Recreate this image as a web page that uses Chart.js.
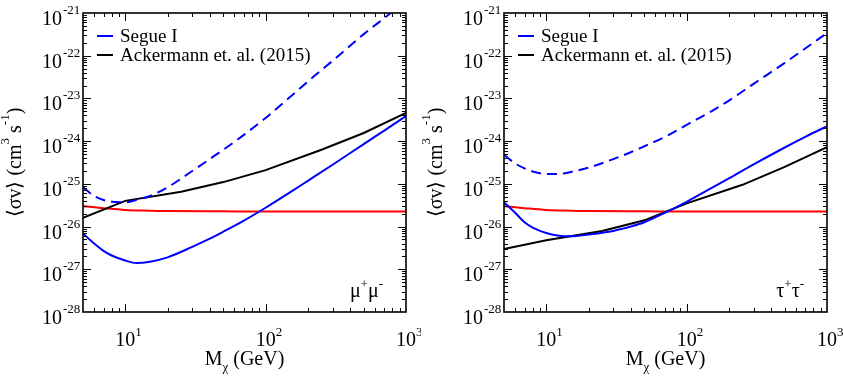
<!DOCTYPE html>
<html>
<head>
<meta charset="utf-8">
<script src="https://cdn.jsdelivr.net/npm/chart.js@4.4.1/dist/chart.umd.min.js"></script>
<style>
  body { margin: 0; background: #fff; width: 843px; height: 378px; overflow: hidden; }
  canvas { position: absolute; top: 0; }
</style>
</head>
<body>
<canvas id="mumu" width="421" height="378" style="left:0px"></canvas>
<canvas id="tautau" width="422" height="378" style="left:421px"></canvas>
<script>
// masses (GeV)
var massGrid = [5, 6, 7, 8, 10, 12, 15, 20, 30, 40, 50, 70, 100, 150, 200, 300, 500, 700, 1000];
var fermiMass = [5, 10, 25, 50, 100, 250, 500, 1000];
var relicMass = [5, 7, 10, 15, 20, 50, 100, 1000];

// <sigma v> (cm^3 s^-1)
var relicSigmaV = [3.0e-26, 2.7e-26, 2.45e-26, 2.35e-26, 2.3e-26, 2.27e-26, 2.25e-26, 2.25e-26];

var mumuSegue = [6.9e-27, 4.0e-27, 2.7e-27, 2.1e-27, 1.6e-27, 1.4e-27, 1.5e-27, 1.9e-27, 3.35e-27, 5.2e-27,
  7.6e-27, 1.38e-26, 2.76e-26, 6.4e-26, 1.18e-25, 2.8e-25, 8.55e-25, 1.77e-24, 3.85e-24];
var mumuSegueDashed = [8.3e-26, 5.2e-26, 4.2e-26, 3.8e-26, 3.7e-26, 4.2e-26, 5.2e-26, 8.3e-26, 2.0e-25, 3.8e-25,
  6.3e-25, 1.4e-24, 3.5e-24, 1.1e-23, 2.5e-23, 7.6e-23, 3.2e-22, 7.6e-22, 1.9e-21];
var mumuFermi = [1.6e-26, 4.0e-26, 6.5e-26, 1.1e-25, 2.1e-25, 6.3e-25, 1.55e-24, 4.6e-24];

var tautauSegue = [3.7e-26, 2.1e-26, 1.26e-26, 9.5e-27, 7.1e-27, 6.2e-27, 5.9e-27, 6.5e-27, 7.9e-27, 1.0e-26,
  1.26e-26, 2.1e-26, 3.8e-26, 7.9e-26, 1.34e-25, 2.85e-25, 7.1e-25, 1.26e-24, 2.23e-24];
var tautauSegueDashed = [4.8e-25, 3.0e-25, 2.3e-25, 1.95e-25, 1.7e-25, 1.7e-25, 1.9e-25, 2.4e-25, 3.8e-25, 5.5e-25,
  7.6e-25, 1.26e-24, 2.4e-24, 5.0e-24, 8.9e-24, 2.2e-23, 6.8e-23, 1.48e-22, 3.4e-22];
var tautauFermi = [3.0e-27, 4.8e-27, 7.9e-27, 1.4e-26, 3.5e-26, 9.5e-26, 2.5e-25, 7.2e-25];

// tick labels (10^exp)
var xTickExp = ['1', '2', '3'];
var yTickExp = ['-21', '-22', '-23', '-24', '-25', '-26', '-27', '-28'];
var legendLabels = ['Segue I', 'Ackermann et. al. (2015)'];

var SERIF = "'Liberation Serif', serif";

function pts(xs, ys) {
  return xs.map(function (x, i) { return { x: x, y: ys[i] }; });
}

// runs of [text, 'sup'|'sub'|''] pieces
function runWidth(ctx, pieces) {
  var w = 0;
  pieces.forEach(function (p) {
    ctx.font = (p[1] ? '13px ' : '20px ') + SERIF;
    w += ctx.measureText(p[0]).width;
  });
  return w;
}
function drawRun(ctx, pieces, x, y, raise) {
  pieces.forEach(function (p) {
    ctx.font = (p[1] ? '13px ' : '20px ') + SERIF;
    var dy = p[1] == 'sup' ? -raise : (p[1] == 'sub' ? 6 : 0);
    ctx.fillText(p[0], x, y + dy);
    x += ctx.measureText(p[0]).width;
  });
}

var framePlugin = {
  id: 'frame',
  afterDatasetsDraw: function (chart, args, opts) {
    var ctx = chart.ctx, a = chart.chartArea, xs = chart.scales.x, ys = chart.scales.y;
    ctx.save();
    ctx.fillStyle = '#000';
    ctx.strokeStyle = '#000';

    // ticks, inside on all four sides
    ctx.lineWidth = 1;
    ctx.beginPath();
    for (var d = 0; d <= 3; d++) {
      for (var k = 1; k <= 9; k++) {
        var v = k * Math.pow(10, d);
        if (v <= 5 || v >= 1000) continue;
        var px = Math.round(xs.getPixelForValue(v)) + 0.5;
        var len = k == 1 ? 8 : 4;
        ctx.moveTo(px, a.bottom); ctx.lineTo(px, a.bottom - len);
        ctx.moveTo(px, a.top); ctx.lineTo(px, a.top + len);
      }
    }
    for (var e = -28; e <= -22; e++) {
      for (var k = 1; k <= 9; k++) {
        var v = k * Math.pow(10, e);
        if (v <= 1e-28) continue;
        var py = Math.round(ys.getPixelForValue(v)) + 0.5;
        var len = k == 1 ? 8 : 4;
        ctx.moveTo(a.left, py); ctx.lineTo(a.left + len, py);
        ctx.moveTo(a.right, py); ctx.lineTo(a.right - len, py);
      }
    }
    ctx.stroke();

    ctx.lineWidth = 1.6;
    ctx.strokeRect(a.left, a.top, a.right - a.left, a.bottom - a.top);

    // y tick labels
    ctx.textBaseline = 'alphabetic';
    yTickExp.forEach(function (ex) {
      var py = ys.getPixelForValue(Math.pow(10, Number(ex)));
      ctx.font = '20px ' + SERIF;
      ctx.textAlign = 'right';
      ctx.fillText('10', a.left - 21, py + 12);
      ctx.font = '13px ' + SERIF;
      ctx.textAlign = 'left';
      ctx.fillText(ex, a.left - 20, py + 1);
    });

    // x tick labels
    xTickExp.forEach(function (ex) {
      var px = xs.getPixelForValue(Math.pow(10, Number(ex)));
      ctx.font = '20px ' + SERIF;
      ctx.textAlign = 'center';
      ctx.fillText('10', px, a.bottom + 34);
      var w = ctx.measureText('10').width;
      ctx.font = '13px ' + SERIF;
      ctx.textAlign = 'left';
      ctx.fillText(ex, px + w / 2, a.bottom + 24);
    });

    // x title
    ctx.textAlign = 'left';
    var xt = [['M', ''], ['\u03c7', 'sub'], [' (GeV)', '']];
    var xw = runWidth(ctx, xt);
    drawRun(ctx, xt, (a.left + a.right) / 2 - xw / 2, a.bottom + 53, 10);

    // y title (rotated)
    var yt = [['\u27e8\u03c3v\u27e9 (cm', ''], ['3', 'sup'], [' s', ''], ['-1', 'sup'], [')', '']];
    var yw = runWidth(ctx, yt);
    ctx.save();
    ctx.translate(a.left - 62, (a.top + a.bottom) / 2);
    ctx.rotate(-Math.PI / 2);
    drawRun(ctx, yt, -yw / 2, 0, 12);
    ctx.restore();

    // legend
    var lg = [{ c: '#0000ff', y: a.top + 23 }, { c: '#000000', y: a.top + 42 }];
    lg.forEach(function (l, i) {
      ctx.strokeStyle = l.c;
      ctx.lineWidth = 2;
      ctx.beginPath();
      ctx.moveTo(a.left + 14, l.y); ctx.lineTo(a.left + 30, l.y);
      ctx.stroke();
      ctx.font = '19px ' + SERIF;
      ctx.fillStyle = '#000';
      ctx.fillText(legendLabels[i], a.left + 37, l.y + 6);
    });

    // channel label
    var cw = runWidth(ctx, opts.channel);
    drawRun(ctx, opts.channel, a.right - 23 - cw, a.bottom - 15, 9);

    ctx.restore();
  }
};

function makeChart(id, segue, dashed, fermi, channel, padLeft, padRight) {
  return new Chart(document.getElementById(id), {
    type: 'line',
    data: {
      datasets: [
        { label: legendLabels[0], data: pts(massGrid, segue), borderColor: '#0000ff', borderWidth: 2,
          cubicInterpolationMode: 'monotone' },
        { label: 'Segue I (dashed)', data: pts(massGrid, dashed), borderColor: '#0000ff', borderWidth: 2,
          borderDash: [10, 6], cubicInterpolationMode: 'monotone' },
        { label: legendLabels[1], data: pts(fermiMass, fermi), borderColor: '#000000', borderWidth: 2,
          tension: 0 },
        { label: 'thermal relic', data: pts(relicMass, relicSigmaV), borderColor: '#ff0000', borderWidth: 2,
          cubicInterpolationMode: 'monotone' }
      ]
    },
    options: {
      responsive: false,
      animation: false,
      layout: { padding: { left: padLeft, right: padRight, top: 13, bottom: 66 } },
      elements: { point: { radius: 0 } },
      scales: {
        x: { type: 'logarithmic', min: 5, max: 1000, display: false },
        y: { type: 'logarithmic', min: 1e-28, max: 1e-21, display: false }
      },
      plugins: {
        legend: { display: false },
        tooltip: { enabled: false },
        frame: { channel: channel }
      }
    },
    plugins: [framePlugin]
  });
}

makeChart('mumu', mumuSegue, mumuSegueDashed, mumuFermi,
  [['\u03bc', ''], ['+', 'sup'], ['\u03bc', ''], ['-', 'sup']], 83, 15);
makeChart('tautau', tautauSegue, tautauSegueDashed, tautauFermi,
  [['\u03c4', ''], ['+', 'sup'], ['\u03c4', ''], ['-', 'sup']], 83, 16);
</script>
</body>
</html>
